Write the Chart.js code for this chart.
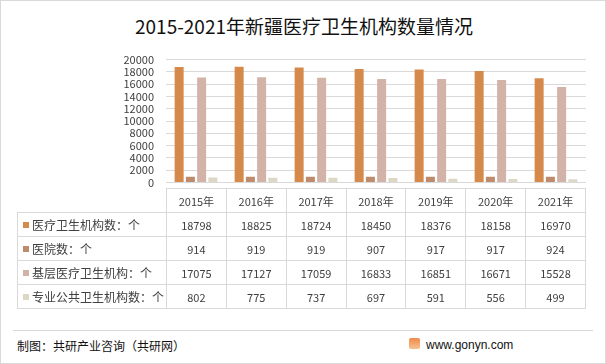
<!DOCTYPE html>
<html>
<head>
<meta charset="utf-8">
<script src="https://cdn.jsdelivr.net/npm/chart.js@4/dist/chart.umd.min.js"></script>
<style>
    body { margin: 0; background: #fff; font-family: "Noto Sans CJK SC", "Noto Sans", sans-serif; }
    #wrap { position: relative; width: 606px; height: 364px; box-sizing: border-box; border: 1px solid #d9d9d9; overflow: hidden; }
    #title { position: absolute; left: 0; top: 12px; width: 606px; text-align: center; font-size: 19px; line-height: 26px; color: #111; }
    #chart { position: absolute; left: 0; top: 40px; }
    #tbl { position: absolute; left: 16px; top: 187px; border-collapse: collapse; table-layout: fixed; width: 569px; color: #404040; }
    #tbl td { border: 1px solid #d9d9d9; height: 24px; line-height: 14px; padding: 0; text-align: center; font-size: 11px; box-sizing: border-box; }
    #tbl td.lab { text-align: left; font-size: 12px; padding-left: 5px; white-space: nowrap; }
    #tbl td.blank { border-left: none; border-top: none; }
    .sq { display: inline-block; width: 6px; height: 6px; margin-right: 3px; vertical-align: 2px; }
    #rule { position: absolute; left: 12px; top: 329px; width: 580px; height: 1px; background: #d9d9d9; }
    #src { position: absolute; left: 16px; top: 336px; font-size: 12px; line-height: 18px; color: #111; }
    #site { position: absolute; left: 425px; top: 335px; font-size: 12px; line-height: 18px; color: #111; font-family: "Liberation Sans", sans-serif; }
    #logo { position: absolute; left: 408px; top: 337px; width: 11px; height: 11px; border-radius: 2px; background: linear-gradient(#f08a4b, #f7c08f); }
</style>
</head>
<body>
<div id="wrap">
    <div id="title">2015-2021年新疆医疗卫生机构数量情况</div>
    <canvas id="chart" width="606" height="160"></canvas>
    <table id="tbl"></table>
    <div id="rule"></div>
    <div id="src">制图：共研产业咨询（共研网）</div>
    <div id="logo"></div>
    <div id="site">www.gonyn.com</div>
</div>
<script>
const years = ['2015年', '2016年', '2017年', '2018年', '2019年', '2020年', '2021年'];
const seriesNames = ['医疗卫生机构数：个', '医院数：个', '基层医疗卫生机构：个', '专业公共卫生机构数：个'];
const institutions = [18798, 18825, 18724, 18450, 18376, 18158, 16970];
const hospitals = [914, 919, 919, 907, 917, 917, 924];
const grassroots = [17075, 17127, 17059, 16833, 16851, 16671, 15528];
const publicHealth = [802, 775, 737, 697, 591, 556, 499];
const yTicks = [0, 2000, 4000, 6000, 8000, 10000, 12000, 14000, 16000, 18000, 20000];

const colors = ['#D58A4B', '#BE8C6C', '#D3B3A8', '#DDD7C6'];
const allSeries = [institutions, hospitals, grassroots, publicHealth];

// table under the plot
const tbl = document.getElementById('tbl');
let html = '<colgroup><col style="width:149px">' + years.map(() => '<col>').join('') + '</colgroup>';
html += '<tr><td class="blank"></td>' + years.map(y => '<td>' + y + '</td>').join('') + '</tr>';
allSeries.forEach((vals, i) => {
    html += '<tr><td class="lab"><span class="sq" style="background:' + colors[i] + '"></span>' + seriesNames[i] + '</td>';
    html += vals.map(v => '<td>' + v + '</td>').join('') + '</tr>';
});
tbl.innerHTML = html;

new Chart(document.getElementById('chart'), {
    type: 'bar',
    data: {
        labels: years,
        datasets: allSeries.map((vals, i) => ({
            label: seriesNames[i],
            data: vals,
            backgroundColor: colors[i],
            categoryPercentage: 0.75,
            barPercentage: 0.8
        }))
    },
    options: {
        responsive: false,
        animation: false,
        layout: { padding: { left: 100, right: 21, top: 13, bottom: 9 } },
        plugins: { legend: { display: false }, tooltip: { enabled: false } },
        scales: {
            x: { display: false },
            y: {
                min: 0,
                max: 20000,
                afterBuildTicks: (scale) => { scale.ticks = yTicks.map(v => ({ value: v })); },
                afterFit: (scale) => { scale.width = 65; },
                border: { display: false },
                grid: { color: '#d9d9d9', drawTicks: false },
                ticks: {
                    autoSkip: false,
                    padding: 12,
                    color: '#404040',
                    font: { size: 11, family: 'Noto Sans CJK SC' },
                    callback: (v) => String(v)
                }
            }
        }
    }
});
</script>
</body>
</html>
